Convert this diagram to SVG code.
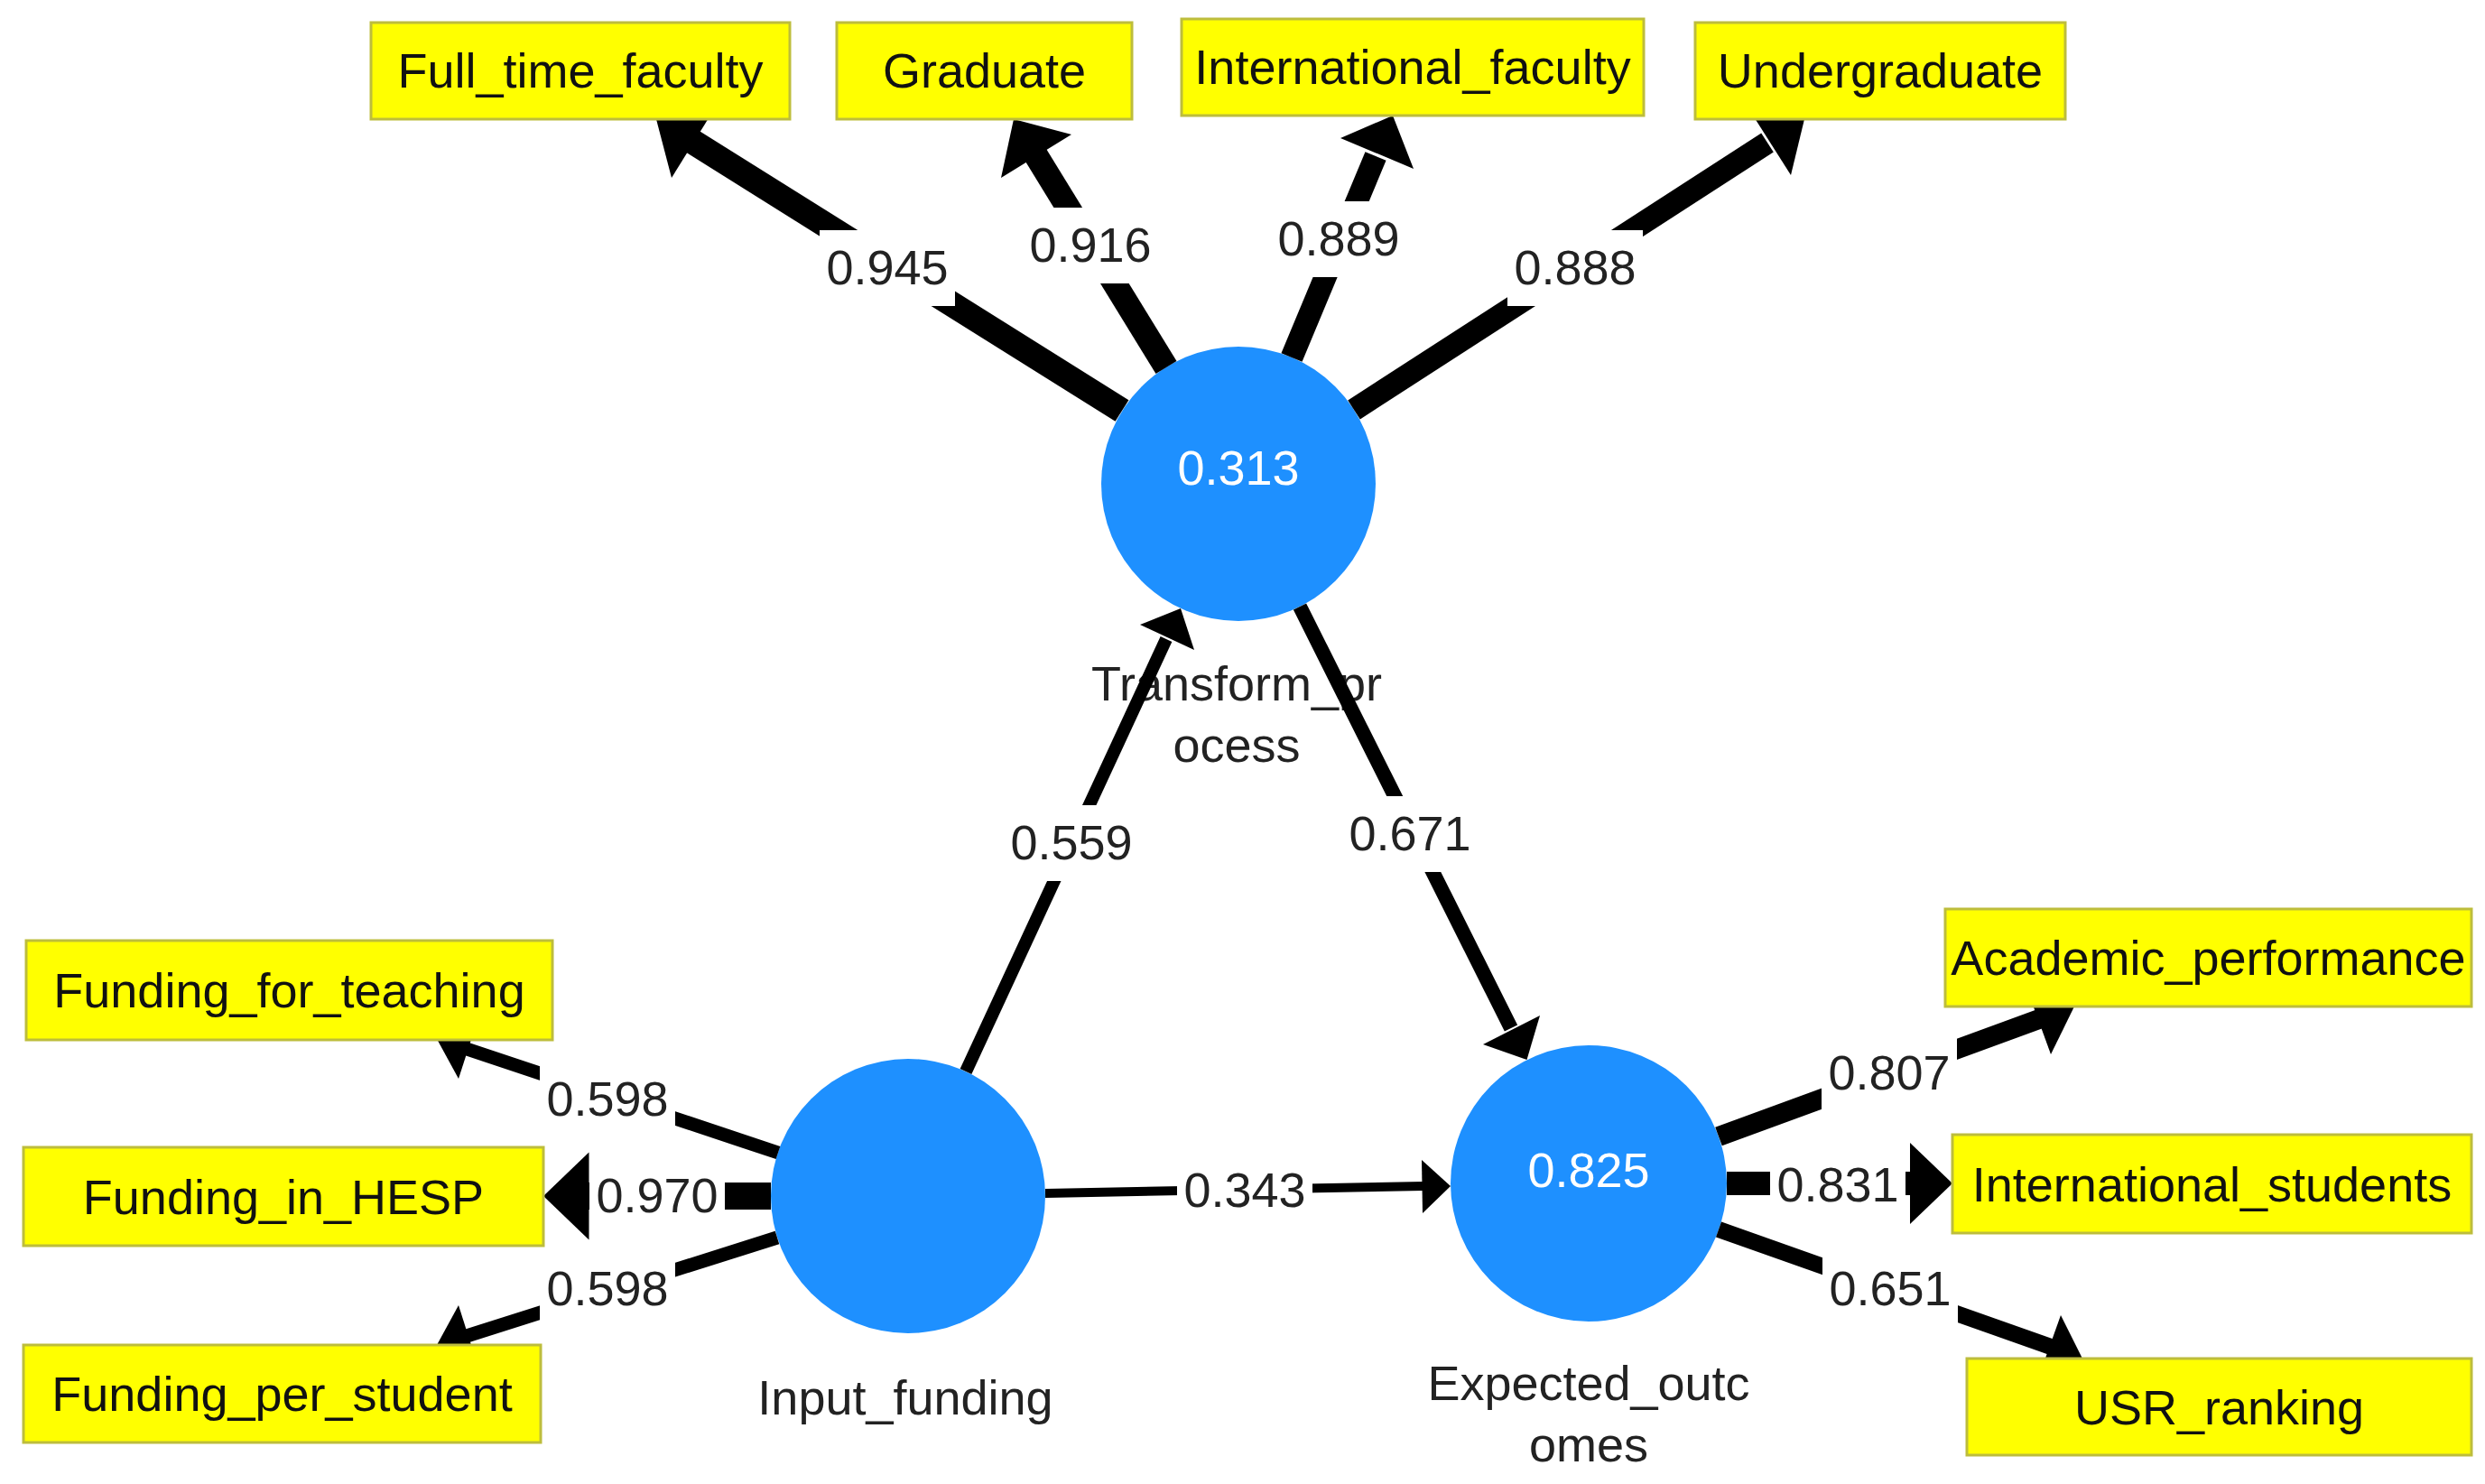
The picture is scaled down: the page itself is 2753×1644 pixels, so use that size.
<svg xmlns="http://www.w3.org/2000/svg" width="2753" height="1644" viewBox="0 0 2753 1644">
<style>
.bg{fill:#ffffff}
.box rect{fill:#ffff00;stroke:#bdbd3c;stroke-width:3}
.box text{font-family:"Liberation Sans",Arial,sans-serif;font-size:54px;fill:#111;text-anchor:middle}
.lat circle{fill:#1e90ff}
.lat .val{font-family:"Liberation Sans",Arial,sans-serif;font-size:54px;fill:#ffffff;text-anchor:middle}
.lat .name{font-family:"Liberation Sans",Arial,sans-serif;font-size:54px;fill:#222;text-anchor:middle}
.edge line{stroke:#000;stroke-linecap:butt}
.edge polygon{fill:#000}
.elab rect{fill:#ffffff}
.elab text{font-family:"Liberation Sans",Arial,sans-serif;font-size:54px;fill:#222;text-anchor:middle}
</style>
<rect class="bg" x="0" y="0" width="2753" height="1644"/>

<g id="node-Transform_process" class="lat">
  <circle cx="1372" cy="536" r="152"/>
  <text class="val" x="1372" y="537">0.313</text>
  <text class="name" x="1370" y="776">Transform_pr</text>
  <text class="name" x="1370" y="844">ocess</text>
</g>
<g id="node-Input_funding" class="lat">
  <circle cx="1006" cy="1325" r="152"/>
  <text class="name" x="1003" y="1567">Input_funding</text>
</g>
<g id="node-Expected_outcomes" class="lat">
  <circle cx="1760" cy="1311" r="153"/>
  <text class="val" x="1760" y="1315">0.825</text>
  <text class="name" x="1760" y="1551">Expected_outc</text>
  <text class="name" x="1760" y="1619">omes</text>
</g>

<g id="connectors">
  <g id="e-full_time" class="edge">
    <line x1="1243" y1="455" x2="766" y2="156" stroke-width="28"/>
    <polygon points="727,132 793,118 744,197"/>
  </g>
  <g id="e-graduate" class="edge">
    <line x1="1292" y1="407" x2="1147" y2="171" stroke-width="27"/>
    <polygon points="1123,132 1187,149 1109,197"/>
  </g>
  <g id="e-intl_faculty" class="edge">
    <line x1="1431" y1="396" x2="1524" y2="173" stroke-width="25"/>
    <polygon points="1543,128 1566,187 1485,153"/>
  </g>
  <g id="e-undergraduate" class="edge">
    <line x1="1500" y1="454" x2="1958" y2="158" stroke-width="25"/>
    <polygon points="1999,132 1984,194 1937,120"/>
  </g>
  <g id="e-input_transform" class="edge">
    <line x1="1070" y1="1187" x2="1292" y2="708" stroke-width="14"/>
    <polygon points="1308,674 1323,720 1263,692"/>
  </g>
  <g id="e-transform_expected" class="edge">
    <line x1="1440" y1="672" x2="1674" y2="1139" stroke-width="16"/>
    <polygon points="1691.5,1174 1643,1157 1706,1125"/>
  </g>
  <g id="e-input_expected" class="edge">
    <line x1="1158" y1="1322" x2="1577" y2="1314" stroke-width="10"/>
    <polygon points="1607,1314 1576,1344 1575,1285"/>
  </g>
  <g id="e-f_teaching" class="edge">
    <line x1="862" y1="1277" x2="517" y2="1162" stroke-width="15"/>
    <polygon points="484,1151 529,1130 508,1195"/>
  </g>
  <g id="e-f_hesp" class="edge">
    <line x1="854" y1="1325" x2="650" y2="1325" stroke-width="30"/>
    <polygon points="602,1325 652.5,1276.5 652.5,1373.5"/>
  </g>
  <g id="e-f_student" class="edge">
    <line x1="861" y1="1371" x2="517" y2="1480" stroke-width="15"/>
    <polygon points="484,1490 508,1446 529,1512"/>
  </g>
  <g id="e-academic" class="edge">
    <line x1="1904" y1="1259" x2="2259" y2="1129" stroke-width="22"/>
    <polygon points="2298,1115 2272,1168 2244,1091"/>
  </g>
  <g id="e-intl_students" class="edge">
    <line x1="1913" y1="1311" x2="2118" y2="1311" stroke-width="26"/>
    <polygon points="2163,1311 2116,1266 2116,1356"/>
  </g>
  <g id="e-usr" class="edge">
    <line x1="1904" y1="1362" x2="2272" y2="1492" stroke-width="18"/>
    <polygon points="2307,1505 2258,1527 2283,1457"/>
  </g>

  <g class="elab"><rect x="908" y="255" width="150" height="84"/><text x="983" y="315">0.945</text></g>
  <g class="elab"><rect x="1133" y="230" width="150" height="84"/><text x="1208" y="290">0.916</text></g>
  <g class="elab"><rect x="1408" y="223" width="150" height="84"/><text x="1483" y="283">0.889</text></g>
  <g class="elab"><rect x="1670" y="255" width="150" height="84"/><text x="1745" y="315">0.888</text></g>
  <g class="elab"><rect x="1112" y="892" width="150" height="84"/><text x="1187" y="952">0.559</text></g>
  <g class="elab"><rect x="1487" y="882" width="150" height="84"/><text x="1562" y="942">0.671</text></g>
  <g class="elab"><rect x="1304" y="1277" width="150" height="84"/><text x="1379" y="1337">0.343</text></g>
  <g class="elab"><rect x="598" y="1176" width="150" height="84"/><text x="673" y="1236">0.598</text></g>
  <g class="elab"><rect x="653" y="1283" width="150" height="84"/><text x="728" y="1343">0.970</text></g>
  <g class="elab"><rect x="598" y="1386" width="150" height="84"/><text x="673" y="1446">0.598</text></g>
  <g class="elab"><rect x="2018" y="1147" width="150" height="84"/><text x="2093" y="1207">0.807</text></g>
  <g class="elab"><rect x="1961" y="1271" width="150" height="84"/><text x="2036" y="1331">0.831</text></g>
  <g class="elab"><rect x="2019" y="1386" width="150" height="84"/><text x="2094" y="1446">0.651</text></g>
</g>

<g id="node-Full_time_faculty" class="box"><rect x="411" y="25" width="464" height="107"/><text x="643" y="97">Full_time_faculty</text></g>
<g id="node-Graduate" class="box"><rect x="927" y="25" width="327" height="107"/><text x="1090.5" y="97">Graduate</text></g>
<g id="node-International_faculty" class="box"><rect x="1309" y="21" width="512" height="107"/><text x="1565" y="93">International_faculty</text></g>
<g id="node-Undergraduate" class="box"><rect x="1878" y="25" width="410" height="107"/><text x="2083" y="97">Undergraduate</text></g>
<g id="node-Funding_for_teaching" class="box"><rect x="29" y="1042" width="583" height="110"/><text x="320.5" y="1116">Funding_for_teaching</text></g>
<g id="node-Funding_in_HESP" class="box"><rect x="26" y="1271" width="576" height="109"/><text x="314" y="1345">Funding_in_HESP</text></g>
<g id="node-Funding_per_student" class="box"><rect x="26" y="1490" width="573" height="108"/><text x="312.5" y="1563">Funding_per_student</text></g>
<g id="node-Academic_performance" class="box"><rect x="2155" y="1007" width="583" height="108"/><text x="2446.5" y="1080">Academic_performance</text></g>
<g id="node-International_students" class="box"><rect x="2163" y="1257" width="575" height="109"/><text x="2450.5" y="1331">International_students</text></g>
<g id="node-USR_ranking" class="box"><rect x="2179" y="1505" width="559" height="107"/><text x="2458.5" y="1578">USR_ranking</text></g>
</svg>
